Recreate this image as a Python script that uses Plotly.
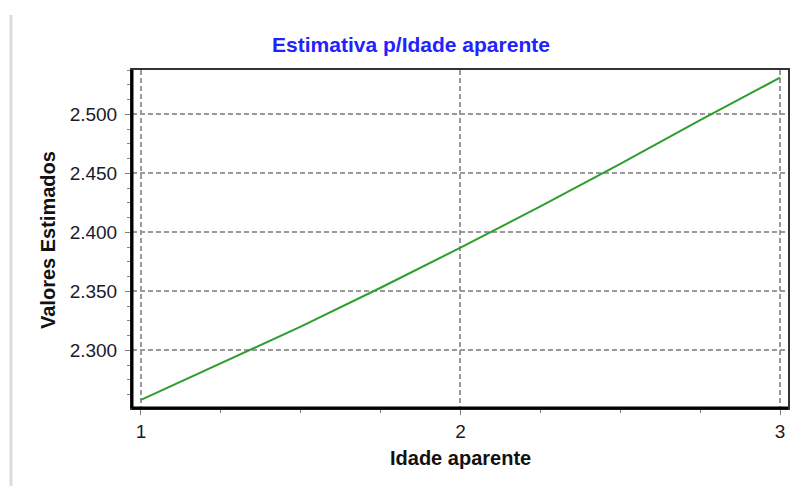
import plotly.graph_objects as go

# Data
idade = [1.0, 1.25, 1.5, 1.75, 2.0, 2.25, 2.5, 2.75, 3.0]
valores = [2.258, 2.289, 2.320, 2.353, 2.387, 2.422, 2.458, 2.495, 2.531]

title_text = "Estimativa p/Idade aparente"
x_title = "Idade aparente"
y_title = "Valores Estimados"

FONT = "Liberation Sans, Arial, sans-serif"
GRID = "#9a9a9a"
TICK = "#808080"

# the page body adds an 8px offset; figure is sized to compensate
OFF = 8
W, H = 802 - OFF, 486 - OFF
L, T = 132 - OFF, 70 - OFF
PR, PB = 788 - OFF, 408 - OFF

fig = go.Figure()
fig.add_trace(go.Scatter(
    x=idade, y=valores, mode="lines",
    line=dict(color="#2e9e2e", width=2),
    showlegend=False, hoverinfo="skip",
))

fig.update_layout(
    width=W, height=H,
    paper_bgcolor="white", plot_bgcolor="white",
    margin=dict(l=L, r=W - PR, t=T, b=H - PB),
    title=dict(text=title_text, x=(411 - OFF) / W, xref="container", xanchor="center",
               y=1 - (45 - OFF) / H, yref="container", yanchor="middle",
               font=dict(family=FONT, size=21, color="#2222ff", weight="bold")),
    font=dict(family=FONT, size=19, color="#1a1a2a"),
)

fig.update_xaxes(
    range=[0.972, 3.025], tick0=1, dtick=1,
    showgrid=True, gridcolor=GRID, gridwidth=1.5, griddash="5px,3px",
    zeroline=False,
    showline=True, linecolor="#333333", linewidth=2, mirror=True,
    ticks="outside", ticklen=5, tickcolor=TICK, tickwidth=1,
    minor=dict(dtick=0.25, tick0=1, ticks="outside", ticklen=3, tickcolor=TICK, showgrid=False),
    tickfont=dict(size=19, color="#1a1a2a"),
)
fig.update_yaxes(
    range=[2.2511, 2.5375], tick0=2.3, dtick=0.05, tickformat=".3f",
    showgrid=True, gridcolor=GRID, gridwidth=1.5, griddash="5px,3px",
    zeroline=False,
    showline=True, linecolor="#333333", linewidth=2, mirror=True,
    ticks="outside", ticklen=5, tickcolor=TICK, tickwidth=1,
    minor=dict(dtick=0.0125, tick0=2.3, ticks="outside", ticklen=3, tickcolor=TICK, showgrid=False),
    tickfont=dict(size=19, color="#1a1a2a"),
    ticklabelstandoff=4,
)

pw, ph = PR - L, PB - T
# Axis titles as annotations
fig.add_annotation(text=x_title, xref="paper", yref="paper", x=0.5, y=(408 - 458) / ph,
                   xanchor="center", yanchor="middle", showarrow=False,
                   font=dict(family=FONT, size=20, color="#111111", weight="bold"))
fig.add_annotation(text=y_title, xref="paper", yref="paper", x=(48 - 132) / pw, y=(408 - 240) / ph,
                   xanchor="center", yanchor="middle", showarrow=False, textangle=-90,
                   font=dict(family=FONT, size=20, color="#111111", weight="bold"))

# Thicker left/bottom frame
fig.add_shape(type="line", xref="paper", yref="paper", x0=0, x1=0, y0=0, y1=1,
              line=dict(color="black", width=3))
fig.add_shape(type="line", xref="paper", yref="paper", x0=0, x1=1, y0=0, y1=0,
              line=dict(color="black", width=3))
# Faint panel edge at left
fig.add_shape(type="line", xref="paper", yref="paper",
              x0=(11 - 132) / pw, x1=(11 - 132) / pw, y0=(408 - 486) / ph, y1=(408 - 15) / ph,
              line=dict(color="#dcdcdc", width=3))

fig.write_html("out.html")
